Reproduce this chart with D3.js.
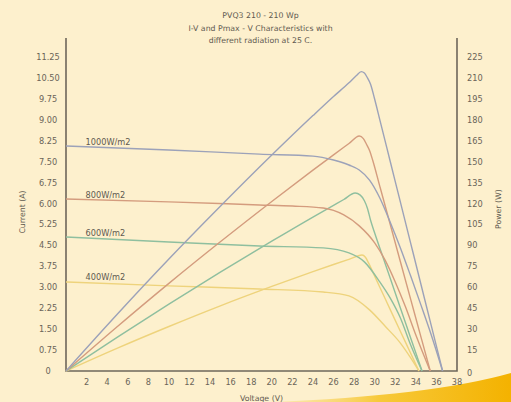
<!DOCTYPE html>
<html>
<head>
<meta charset="utf-8">
<script src="https://cdn.jsdelivr.net/npm/d3@7"></script>
<style>
  html, body { margin: 0; padding: 0; background: #fdf0cd; }
  svg { display: block; }
  text { font-family: "DejaVu Sans", sans-serif; }
</style>
</head>
<body>
<svg id="chart" width="511" height="402"></svg>
<script>
// ---------- data ----------
const titleLines = ["PVQ3 210 - 210 Wp", "I-V and Pmax - V Characteristics with", "different radiation at 25 C."];
const seriesNames = ["1000W/m2", "800W/m2", "600W/m2", "400W/m2"];
const voltageTicks = [2, 4, 6, 8, 10, 12, 14, 16, 18, 20, 22, 24, 26, 28, 30, 32, 34, 36, 38];
const currentTicks = [0, 0.75, 1.5, 2.25, 3, 3.75, 4.5, 5.25, 6, 6.75, 7.5, 8.25, 9, 9.75, 10.5, 11.25];
const powerTicks = [0, 15, 30, 45, 60, 75, 90, 105, 120, 135, 150, 165, 180, 195, 210, 225];

// I-V curves (voltage V, current A)
const ivVolt1000 = [0, 10, 18.8, 24, 26, 27.5, 28.5, 29.5, 30.5, 31.5, 32.5, 33.5, 34.5, 35.5, 36.6];
const ivAmp1000  = [8.06, 7.92, 7.77, 7.70, 7.56, 7.38, 7.20, 6.84, 6.20, 5.34, 4.41, 3.40, 2.36, 1.29, 0];
const ivVolt800  = [0, 10, 18.8, 22, 25, 27, 28.5, 30, 31, 32, 33, 34, 35.4];
const ivAmp800   = [6.16, 6.06, 5.95, 5.91, 5.84, 5.59, 5.20, 4.59, 3.98, 3.19, 2.29, 1.29, 0];
const ivVolt600  = [0, 10, 18.8, 25, 27.5, 29, 30.5, 31.5, 32.5, 33.5, 34.6];
const ivAmp600   = [4.80, 4.62, 4.48, 4.41, 4.23, 3.91, 3.19, 2.62, 1.90, 0.93, 0];
const ivVolt400  = [0, 10, 18.8, 25, 27.5, 29.5, 31, 32.5, 33.5, 34.3];
const ivAmp400   = [3.19, 3.05, 2.94, 2.83, 2.69, 2.19, 1.61, 1.00, 0.47, 0];

// P-V curves (voltage V, power W)
const pvVolt1000 = [0, 5, 10, 15, 20, 24, 26, 27.5, 28.2, 28.7, 29.0, 29.3, 29.6, 30, 30.5, 31.5, 32.5, 33.5, 34.5, 35.5, 36.6];
const pvWatt1000 = [0, 40.8, 80.2, 118, 154.7, 183, 196.7, 206.5, 211.5, 214.5, 213.5, 210, 205.5, 194.7, 180, 150.5, 121, 91.5, 62, 32.5, 0];
const pvVolt800  = [0, 5, 10, 15, 20, 24, 26, 27.5, 28.5, 28.9, 29.2, 29.5, 29.8, 30.5, 31.5, 32.5, 33.5, 34.5, 35.4];
const pvWatt800  = [0, 31.9, 62.8, 92.6, 121.5, 143.9, 154.9, 163, 168.4, 166.5, 162.5, 158, 151.2, 132.3, 105.3, 78.3, 51.3, 24.3, 0];
const pvVolt600  = [0, 5, 10, 15, 20, 24, 26, 27, 28.1, 28.6, 29.0, 29.3, 29.6, 30, 31, 32, 33, 34, 34.6];
const pvWatt600  = [0, 24.3, 47.9, 70.8, 93, 110.3, 118.7, 122.9, 127.5, 126, 122, 116.5, 108, 98.9, 77.4, 55.9, 34.4, 12.9, 0];
const pvVolt400  = [0, 5, 10, 15, 20, 24, 26, 27.5, 28.77, 29.1, 29.4, 30, 31, 32, 33, 34.3];
const pvWatt400  = [0, 16.4, 31.9, 46.7, 60.6, 71.2, 76.3, 80, 83.1, 81.5, 77.5, 68, 52.1, 36.3, 20.5, 0];

const seriesColors = ["#9ca2b9", "#d49c7e", "#8fbf9f", "#eed37c"];

// ---------- layout ----------
const svg = d3.select("#chart");
const left = 66, right = 457, bottom = 371, topPlot = 57, frameTop = 38;

const x = d3.scaleLinear().domain([0, 38]).range([left, right]);
const yI = d3.scaleLinear().domain([0, 11.25]).range([bottom, topPlot]);
const yP = d3.scaleLinear().domain([0, 225]).range([bottom, topPlot]);

// decorative swoosh at bottom right
const defs = svg.append("defs");
const grad = defs.append("linearGradient").attr("id", "sw").attr("x1", "0").attr("x2", "1").attr("y1", "0").attr("y2", "0");
grad.append("stop").attr("offset", "0").attr("stop-color", "#fbe39a").attr("stop-opacity", 0.5);
grad.append("stop").attr("offset", "0.45").attr("stop-color", "#f7c93a");
grad.append("stop").attr("offset", "1").attr("stop-color", "#f4b200");
svg.append("path")
  .attr("d", "M270,402 Q430,396 511,373 L511,402 Z")
  .attr("fill", "url(#sw)");

// title
svg.append("g").selectAll("text").data(titleLines).join("text")
  .attr("x", (left + right) / 2 - 1)
  .attr("y", (d, i) => 18 + i * 12.5)
  .attr("text-anchor", "middle")
  .attr("font-size", 7.8)
  .attr("fill", "#5f5a50")
  .text(d => d);

// frame
const frameColor = "#6e675b";
svg.append("path")
  .attr("d", `M${left},${frameTop}V${bottom}H${right}V${frameTop}`)
  .attr("fill", "none")
  .attr("stroke", frameColor)
  .attr("stroke-width", 1.6);

// tick labels
const fmtI = d => d === 0 ? "0" : d3.format(".2f")(d);
svg.append("g").selectAll("text").data(currentTicks).join("text")
  .attr("x", 48).attr("y", d => yI(d) + 3)
  .attr("text-anchor", "middle")
  .attr("font-size", 8.2).attr("fill", "#6a6458")
  .text(fmtI);

svg.append("g").selectAll("text").data(powerTicks).join("text")
  .attr("x", 467).attr("y", d => yP(d) + 3 + (d === 0 ? 2 : 0))
  .attr("text-anchor", "start")
  .attr("font-size", 8.2).attr("fill", "#6a6458")
  .text(d => d);

svg.append("g").selectAll("text").data(voltageTicks).join("text")
  .attr("x", d => x(d)).attr("y", 385)
  .attr("text-anchor", "middle")
  .attr("font-size", 8.2).attr("fill", "#6a6458")
  .text(d => d);

// axis titles
svg.append("text")
  .attr("transform", `translate(25,${(yI(6.75) + yI(4.5)) / 2 - 2}) rotate(-90)`)
  .attr("text-anchor", "middle").attr("font-size", 7.8).attr("fill", "#5f5a50")
  .text("Current (A)");
svg.append("text")
  .attr("transform", `translate(501,${yP(116)}) rotate(-90)`)
  .attr("text-anchor", "middle").attr("font-size", 7.8).attr("fill", "#5f5a50")
  .text("Power (W)");
svg.append("text")
  .attr("x", x(19)).attr("y", 401)
  .attr("text-anchor", "middle").attr("font-size", 7.8).attr("fill", "#5f5a50")
  .text("Voltage (V)");

// curves
const ivSets = [[ivVolt1000, ivAmp1000], [ivVolt800, ivAmp800], [ivVolt600, ivAmp600], [ivVolt400, ivAmp400]];
const pvSets = [[pvVolt1000, pvWatt1000], [pvVolt800, pvWatt800], [pvVolt600, pvWatt600], [pvVolt400, pvWatt400]];

const lineI = d3.line().x(d => x(d[0])).y(d => yI(d[1])).curve(d3.curveMonotoneX);
const lineP = d3.line().x(d => x(d[0])).y(d => yP(d[1])).curve(d3.curveMonotoneX);

const curves = svg.append("g").attr("fill", "none").attr("stroke-width", 1.4);
for (let i = 3; i >= 0; i--) {
  const ptsP = pvSets[i][0].map((v, k) => [v, pvSets[i][1][k]]);
  curves.append("path").attr("d", lineP(ptsP)).attr("stroke", seriesColors[i]);
  const ptsI = ivSets[i][0].map((v, k) => [v, ivSets[i][1][k]]);
  curves.append("path").attr("d", lineI(ptsI)).attr("stroke", seriesColors[i]);
}

// series labels
svg.append("g").selectAll("text").data(seriesNames).join("text")
  .attr("x", x(1.9))
  .attr("y", (d, i) => yI(ivSets[i][1][0]) - 1.5)
  .attr("font-size", 8.2).attr("fill", "#5f5a50")
  .text(d => d);
</script>
</body>
</html>
